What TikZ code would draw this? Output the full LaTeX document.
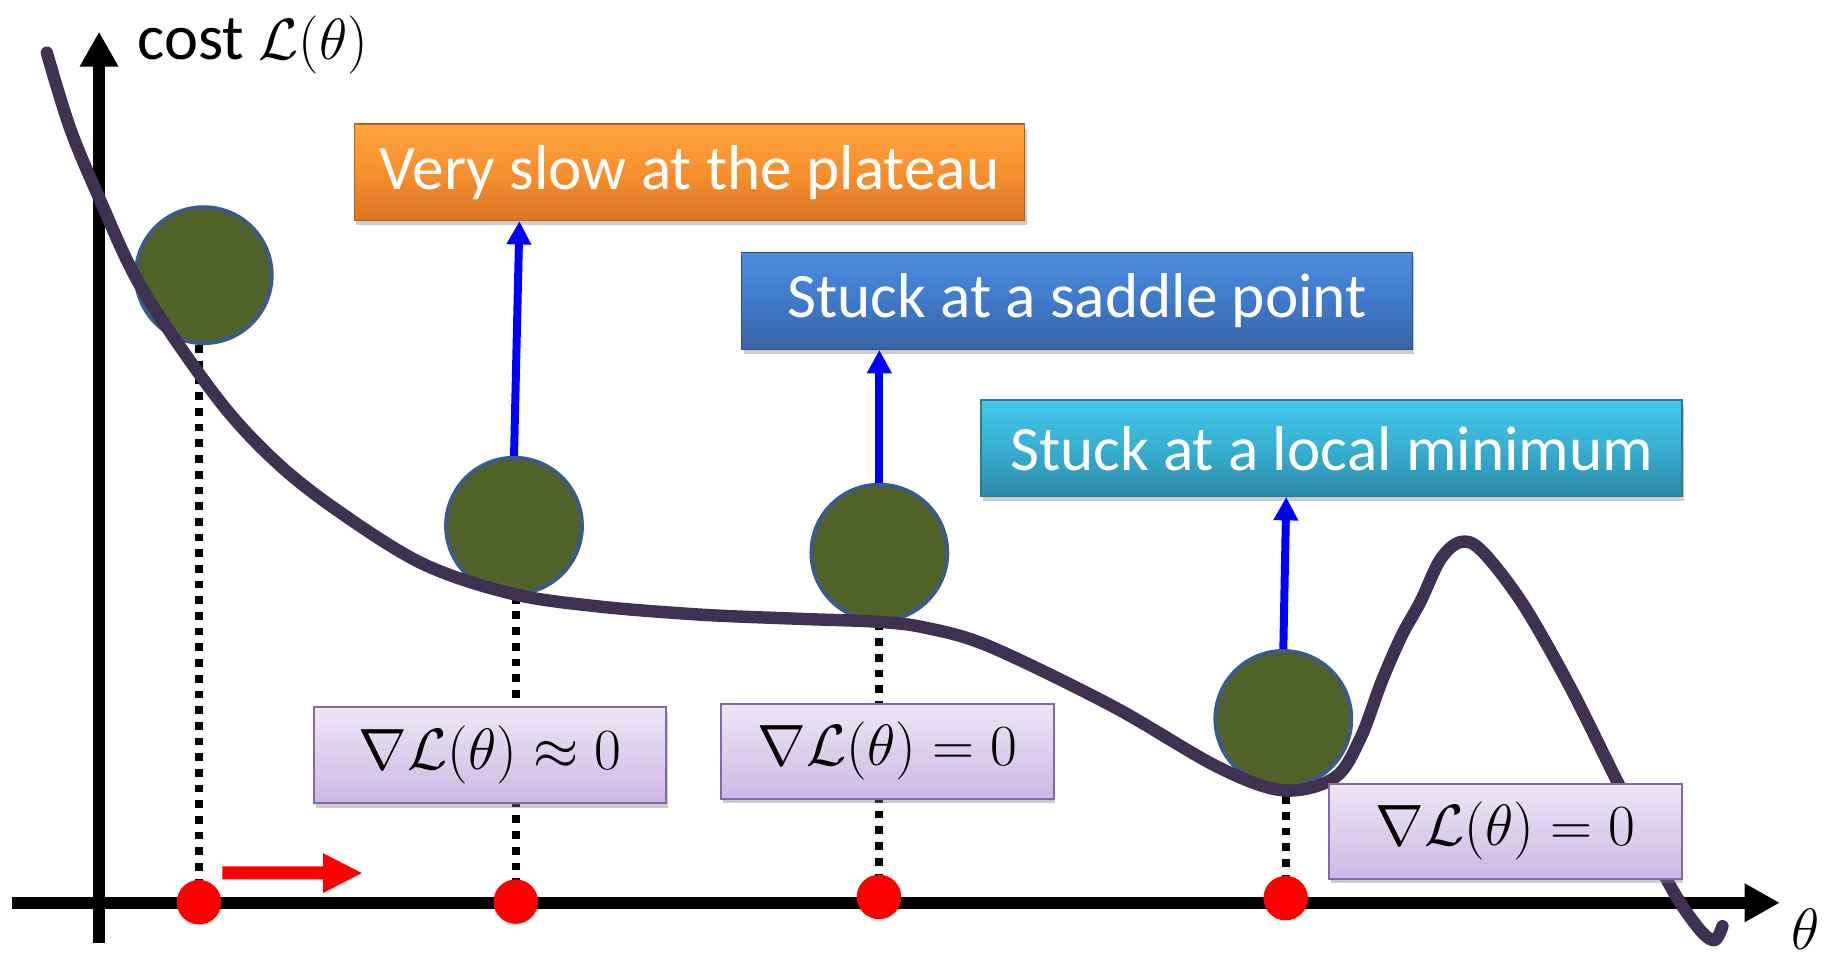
\documentclass[tikz,border=0pt]{standalone}
\usepackage[no-math]{fontspec}
\setmainfont{Carlito}
\usetikzlibrary{arrows.meta,shadows,calc}
\definecolor{curvec}{HTML}{3F3151}
\definecolor{ballfill}{HTML}{4F6228}
\definecolor{ballline}{HTML}{3A5A88}
\definecolor{ortop}{HTML}{FFA33F}
\definecolor{ormid}{HTML}{F7902E}
\definecolor{orbot}{HTML}{DC7424}
\definecolor{orline}{HTML}{B4621C}
\definecolor{bltop}{HTML}{4D8DDE}
\definecolor{blmid}{HTML}{4079C9}
\definecolor{blbot}{HTML}{3764A3}
\definecolor{blline}{HTML}{2F5588}
\definecolor{cytop}{HTML}{45C7EA}
\definecolor{cymid}{HTML}{36AFD2}
\definecolor{cybot}{HTML}{2E8AA5}
\definecolor{cyline}{HTML}{2A7A92}
\definecolor{mtop}{HTML}{EDE7F7}
\definecolor{mbot}{HTML}{CCB8E4}
\definecolor{mline}{HTML}{8468A8}
\begin{document}
\begin{tikzpicture}[x=0.5pt,y=-0.5pt,
  ball/.style={circle, fill=ballfill, draw=ballline, line width=1.7pt, minimum size=58pt, inner sep=0pt},
  rdot/.style={circle, fill=red, minimum size=19pt, inner sep=0pt},
  note/.style={rectangle, line width=0.6pt, text=white, font=\fontsize{27}{32}\selectfont, inner sep=0pt,
    drop shadow={shadow xshift=0.8pt, shadow yshift=-2pt, opacity=0.4}},
  mathbox/.style={rectangle, draw=mline, line width=0.8pt, top color=mtop, bottom color=mbot,
    font=\fontsize{28.5}{32}\selectfont, inner sep=0pt,
    drop shadow={shadow xshift=0.8pt, shadow yshift=-2pt, opacity=0.4}},
  dots/.style={line width=3.4pt, dash pattern=on 3.3pt off 3.4pt},
  garrow/.style={blue, line width=3.4pt, -{Triangle[width=10pt,length=10pt]}},
  axis/.style={line width=5.2pt, -{Triangle[width=15.5pt,length=15pt]}},
  costcurve/.style={draw=curvec, line width=5.3pt, line cap=round, line join=round}
]
\useasboundingbox (0,0) rectangle (1568,819);

% axes
\coordinate (yb) at (84.6,805);
\coordinate (yt) at (84.6,27);
\coordinate (xl) at (10,771);
\coordinate (xr) at (1520,771);
\draw[axis] (yb) -- (yt);
\draw[axis] (xl) -- (xr);

% ball positions
\coordinate (b1) at (174,235);
\coordinate (b2) at (439,449);
\coordinate (b3) at (751,472);
\coordinate (b4) at (1096,614);

% dotted lines (behind)
\draw[dots] (169.7,770.5) -- (169.7,293);
\draw[dots] (440.5,770) -- (440.5,507);
\draw[dots] (750.7,766) -- (750.7,530);
\draw[dots] (1098,767) -- (1098,672);

\node[rdot] (d1) at (170,770.5) {};
\node[rdot] (d2) at (440.5,770) {};
\node[rdot] (d3) at (750.7,766) {};
\node[rdot] (d4) at (1098,767) {};
\node[ball] (c1) at (b1) {};
\node[ball] (c2) at (b2) {};
\node[ball] (c3) at (b3) {};
\node[ball] (c4) at (b4) {};

% cost curve
\path[costcurve] plot[smooth, tension=0.55] coordinates {
 (40,45) (60,110) (86,172) (121,246) (184,338) (232,391) (284,433) (360,481) (437,507)
 (512,518) (600,525) (683,528.5) (749,531) (790,536) (845,552) (950,603) (1040,655) (1096,675) (1140,664)
 (1162,630) (1180,582) (1197,543) (1213,514) (1230,478) (1247,463) (1265,470) (1300,515)
 (1340,585) (1379,663) (1425,754) (1450,792) (1464,803) (1471,791)};

% boxes
\node[note, draw=orline, top color=ortop, bottom color=orbot, middle color=ormid,
  minimum width=286.2pt, minimum height=41.2pt] (n1) at (588.9,147.1) {Very slow at the plateau};
\node[note, draw=blline, top color=bltop, bottom color=blbot, middle color=blmid,
  minimum width=286.3pt, minimum height=41.5pt] (n2) at (919.8,257.1) {Stuck at a saddle point};
\node[note, draw=cyline, top color=cytop, bottom color=cybot, middle color=cymid,
  minimum width=299.4pt, minimum height=41.3pt] (n3) at (1137.2,382.9) {Stuck at a local minimum};

% blue arrows
\coordinate (t1) at (443.6,188.8);
\coordinate (t2) at (751,298.8);
\coordinate (t3) at (1098.5,424.4);
\draw[garrow] (c2.north) -- (t1);
\draw[garrow] (c3.north) -- (t2);
\draw[garrow] (c4.north) -- (t3);

% gradient boxes
\node[mathbox, minimum width=150.5pt, minimum height=41pt] (m1) at (418.5,645) {$\nabla\mathcal{L}(\theta)\approx 0$};
\node[mathbox, minimum width=142pt, minimum height=40.5pt] (m2) at (757.8,641.5) {$\nabla\mathcal{L}(\theta)= 0$};
\node[mathbox, minimum width=150.4pt, minimum height=40.5pt] (m3) at (1285.7,710) {$\nabla\mathcal{L}(\theta)= 0$};

% red direction arrow
\fill[red] (190,740) -- (276,740) -- (276,728.7) -- (309,745.6) -- (276,762.6) -- (276,751) -- (190,751) -- cycle;

% labels
\node[anchor=base west, inner sep=0pt, font=\fontsize{27.5}{32}\selectfont] (ylab) at (117,50.7) {cost $\mathcal{L}(\theta)$};
\node[anchor=base west, inner sep=0pt, font=\fontsize{26}{30}\selectfont] (xlab) at (1530,811) {$\theta$};
\end{tikzpicture}
\end{document}
